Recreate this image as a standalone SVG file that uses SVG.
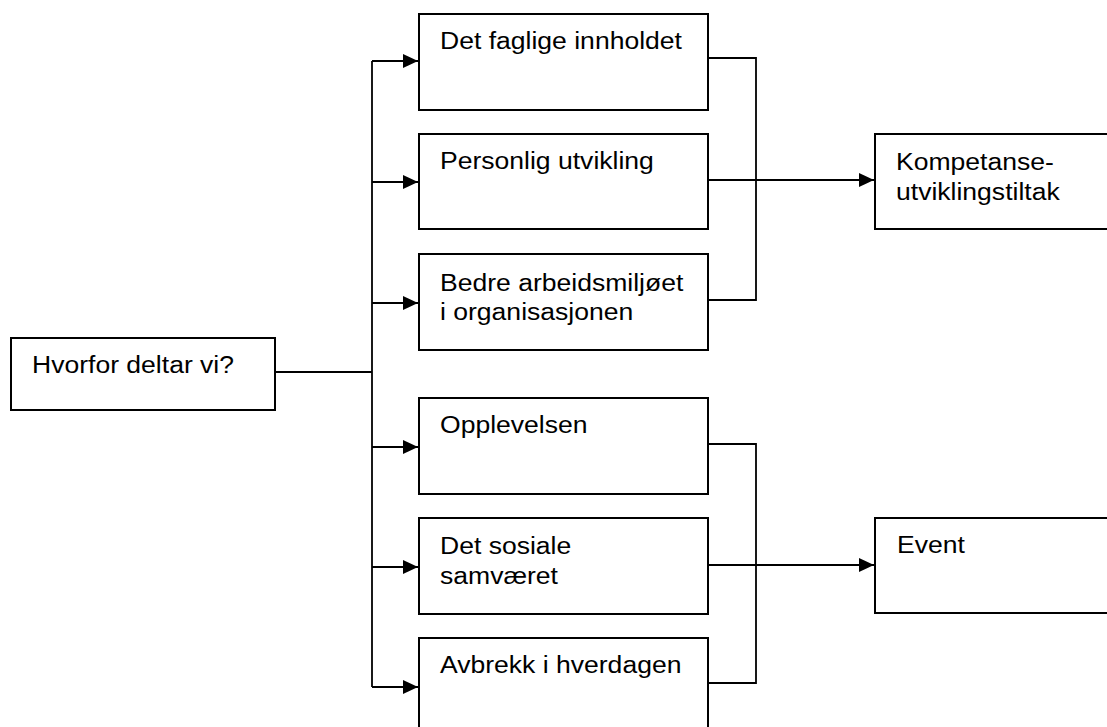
<svg xmlns="http://www.w3.org/2000/svg" width="1107" height="727" viewBox="0 0 1107 727">
<style>
.box{fill:#fff;stroke:#000;stroke-width:2}
.c{fill:none;stroke:#000;stroke-width:1.8}
.t{font-family:"Liberation Sans",Arial,sans-serif;font-size:24.7px;fill:#000}
</style>
<defs>
<marker id="ah" markerUnits="userSpaceOnUse" markerWidth="16" markerHeight="15" refX="15" refY="7" orient="auto" overflow="visible">
<path d="M0,0 L15,7 L0,14 Z" fill="#000"/>
</marker>
</defs>
<rect width="1107" height="727" fill="#fff"/>
<g id="connectors">
<path class="c" d="M275,372 H372"/>
<path class="c" d="M372,61 V687"/>
<path class="c" d="M372,61 H418" marker-end="url(#ah)"/>
<path class="c" d="M372,182 H418" marker-end="url(#ah)"/>
<path class="c" d="M372,303 H418" marker-end="url(#ah)"/>
<path class="c" d="M372,447 H418" marker-end="url(#ah)"/>
<path class="c" d="M372,567 H418" marker-end="url(#ah)"/>
<path class="c" d="M372,687 H418" marker-end="url(#ah)"/>
<path class="c" d="M708,58 H756 V300 H708"/>
<path class="c" d="M708,180 H874" marker-end="url(#ah)"/>
<path class="c" d="M708,444 H756 V683 H708"/>
<path class="c" d="M708,565 H874" marker-end="url(#ah)"/>
</g>
<g id="n-hvorfor">
<rect class="box" x="11" y="338" width="264" height="72"/>
<text class="t" transform="translate(32,373) scale(1.075,1)">Hvorfor deltar vi?</text>
</g>
<g id="n-faglige">
<rect class="box" x="419" y="14" width="289" height="96"/>
<text class="t" transform="translate(440,49) scale(1.075,1)">Det faglige innholdet</text>
</g>
<g id="n-personlig">
<rect class="box" x="419" y="134" width="289" height="95"/>
<text class="t" transform="translate(440,169) scale(1.075,1)">Personlig utvikling</text>
</g>
<g id="n-bedre">
<rect class="box" x="419" y="254" width="289" height="96"/>
<text class="t" transform="translate(440,290.5) scale(1.075,1)">Bedre arbeidsmiljøet</text>
<text class="t" transform="translate(440,320) scale(1.075,1)">i organisasjonen</text>
</g>
<g id="n-opplevelsen">
<rect class="box" x="419" y="398" width="289" height="96"/>
<text class="t" transform="translate(440,433) scale(1.075,1)">Opplevelsen</text>
</g>
<g id="n-sosiale">
<rect class="box" x="419" y="518" width="289" height="96"/>
<text class="t" transform="translate(440,554) scale(1.075,1)">Det sosiale</text>
<text class="t" transform="translate(440,583.5) scale(1.075,1)">samværet</text>
</g>
<g id="n-avbrekk">
<rect class="box" x="419" y="638" width="289" height="100"/>
<text class="t" transform="translate(440,672.7) scale(1.075,1)">Avbrekk i hverdagen</text>
</g>
<g id="n-kompetanse">
<rect class="box" x="875" y="134" width="240" height="95"/>
<text class="t" transform="translate(896,170) scale(1.075,1)">Kompetanse-</text>
<text class="t" transform="translate(896,200) scale(1.075,1)">utviklingstiltak</text>
</g>
<g id="n-event">
<rect class="box" x="875" y="518" width="240" height="95"/>
<text class="t" transform="translate(897,553.3) scale(1.075,1)">Event</text>
</g>
</svg>
